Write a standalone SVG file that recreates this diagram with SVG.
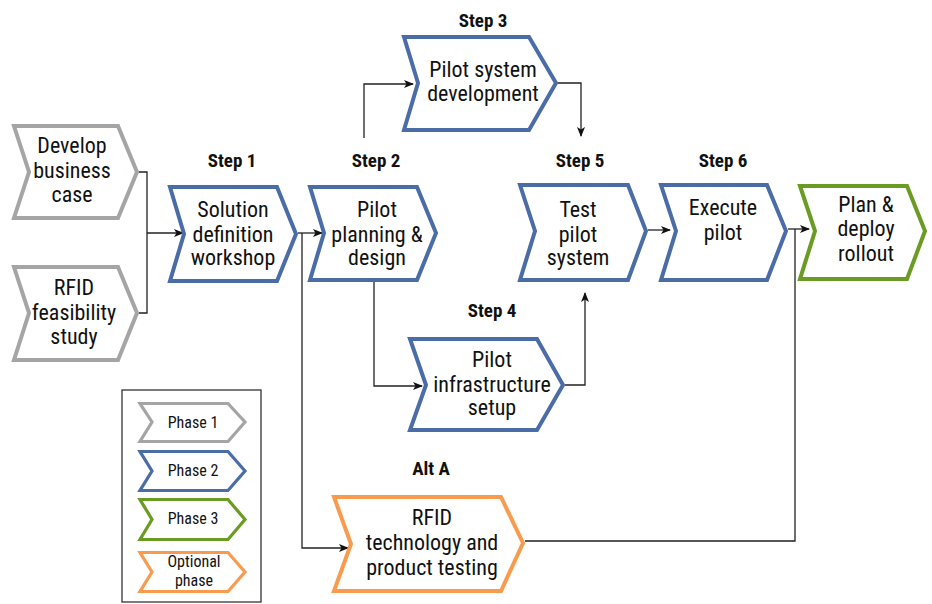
<svg xmlns="http://www.w3.org/2000/svg" width="932" height="604" viewBox="0 0 932 604">
<defs>
<marker id="ah" markerWidth="10" markerHeight="8" refX="9" refY="4" orient="auto" markerUnits="userSpaceOnUse">
<path d="M0,0 L10,4 L0,8 L2.5,4 Z" fill="#111"/>
</marker>
</defs>
<style>
.ch{fill:#fff;stroke-width:4;stroke-linejoin:miter}
.lg{fill:#fff;stroke-width:3.2}
.p1{stroke:#a5a5a5}.p2{stroke:#4a6da7}.p3{stroke:#6a9b22}.po{stroke:#f99b4f}
.t{font-family:"Liberation Sans Narrow","Roboto Condensed","Arial Narrow","Liberation Sans",sans-serif;font-size:22px;fill:#111;text-anchor:middle}
.s{font-family:"Liberation Sans Narrow","Roboto Condensed","Arial Narrow","Liberation Sans",sans-serif;font-size:19px;font-weight:bold;fill:#111;text-anchor:middle}
.l{font-family:"Liberation Sans Narrow","Roboto Condensed","Arial Narrow","Liberation Sans",sans-serif;font-size:16px;fill:#111;text-anchor:middle}
.c{fill:none;stroke:#222;stroke-width:1.3}
</style>
<g id="connectors">
<polyline class="c" points="139,172 147,172 147,313 139,313"/>
<polyline class="c" points="147,233 183,233" marker-end="url(#ah)"/>
<polyline class="c" points="298,233 322,233" marker-end="url(#ah)"/>
<polyline class="c" points="302,233 302,548 348,548" marker-end="url(#ah)"/>
<polyline class="c" points="364,138 364,84 413,84" marker-end="url(#ah)"/>
<polyline class="c" points="558,83 581,83 581,136" marker-end="url(#ah)"/>
<polyline class="c" points="374,282 374,386 422,386" marker-end="url(#ah)"/>
<polyline class="c" points="565,385 585,385 585,293" marker-end="url(#ah)"/>
<polyline class="c" points="648,230 670,230" marker-end="url(#ah)"/>
<polyline class="c" points="788,229 809,229" marker-end="url(#ah)"/>
<polyline class="c" points="525,541 795,541 795,229"/>
</g>
<g id="develop">
<polygon class="ch p1" points="14,126 118,126 137,172 118,218 14,218 29,172"/>
<text class="t" x="72" y="153">Develop</text><text class="t" x="72" y="178">business</text><text class="t" x="72" y="202">case</text>
</g>
<g id="feasibility">
<polygon class="ch p1" points="14,267 118,267 137,313 118,360 14,360 29,313"/>
<text class="t" x="74" y="295">RFID</text><text class="t" x="74" y="320">feasibility</text><text class="t" x="74" y="344">study</text>
</g>
<g id="step1">
<text class="s" x="232" y="167">Step 1</text>
<polygon class="ch p2" points="170,187 277,187 296,234 277,281 170,281 184,234"/>
<text class="t" x="233" y="217">Solution</text><text class="t" x="233" y="242">definition</text><text class="t" x="233" y="265">workshop</text>
</g>
<g id="step2">
<text class="s" x="376" y="167">Step 2</text>
<polygon class="ch p2" points="310,187 417,187 436,233 417,280 310,280 324,233"/>
<text class="t" x="377" y="217">Pilot</text><text class="t" x="377" y="242">planning &amp;</text><text class="t" x="377" y="265">design</text>
</g>
<g id="step3">
<text class="s" x="483" y="27">Step 3</text>
<polygon class="ch p2" points="404,37 529,37 556,83 529,130 404,130 418,83"/>
<text class="t" x="483" y="77">Pilot system</text><text class="t" x="483" y="101">development</text>
</g>
<g id="step4">
<text class="s" x="492" y="317">Step 4</text>
<polygon class="ch p2" points="410,339 537,339 563,385 537,430 410,430 426,385"/>
<text class="t" x="492" y="367">Pilot</text><text class="t" x="492" y="392">infrastructure</text><text class="t" x="492" y="415">setup</text>
</g>
<g id="step5">
<text class="s" x="580" y="167">Step 5</text>
<polygon class="ch p2" points="520,185 628,185 646,231 628,280 520,280 535,231"/>
<text class="t" x="578" y="217">Test</text><text class="t" x="578" y="242">pilot</text><text class="t" x="578" y="265">system</text>
</g>
<g id="step6">
<text class="s" x="723" y="167">Step 6</text>
<polygon class="ch p2" points="661,185 767,185 786,231 767,280 661,280 676,231"/>
<text class="t" x="723" y="215">Execute</text><text class="t" x="723" y="240">pilot</text>
</g>
<g id="rollout">
<polygon class="ch p3" points="800,186 907,186 925,231 907,279 800,279 815,231"/>
<text class="t" x="866" y="212">Plan &amp;</text><text class="t" x="866" y="236">deploy</text><text class="t" x="866" y="261">rollout</text>
</g>
<g id="altA">
<text class="s" x="431" y="475">Alt A</text>
<polygon class="ch po" points="334,497 501,497 523,543 501,591 334,591 351,544"/>
<text class="t" x="432" y="525">RFID</text><text class="t" x="432" y="550">technology and</text><text class="t" x="432" y="575">product testing</text>
</g>
<g id="legend">
<rect x="122" y="390" width="139" height="212" fill="#fff" stroke="#333" stroke-width="1.3"/>
<polygon class="lg p1" points="140,403.5 228,403.5 245,422 228,441.5 140,441.5 152,422"/>
<text class="l" x="193" y="428">Phase 1</text>
<polygon class="lg p2" points="140,451.5 228,451.5 245,471 228,490.5 140,490.5 152,471"/>
<text class="l" x="193" y="476">Phase 2</text>
<polygon class="lg p3" points="140,499.5 228,499.5 245,519.5 228,539.5 140,539.5 152,519.5"/>
<text class="l" x="193" y="524">Phase 3</text>
<polygon class="lg po" points="140,552.5 228,552.5 245,572 228,591.5 140,591.5 152,572"/>
<text class="l" x="194" y="567" font-size="15">Optional</text><text class="l" x="194" y="586" font-size="15">phase</text>
</g>
</svg>
